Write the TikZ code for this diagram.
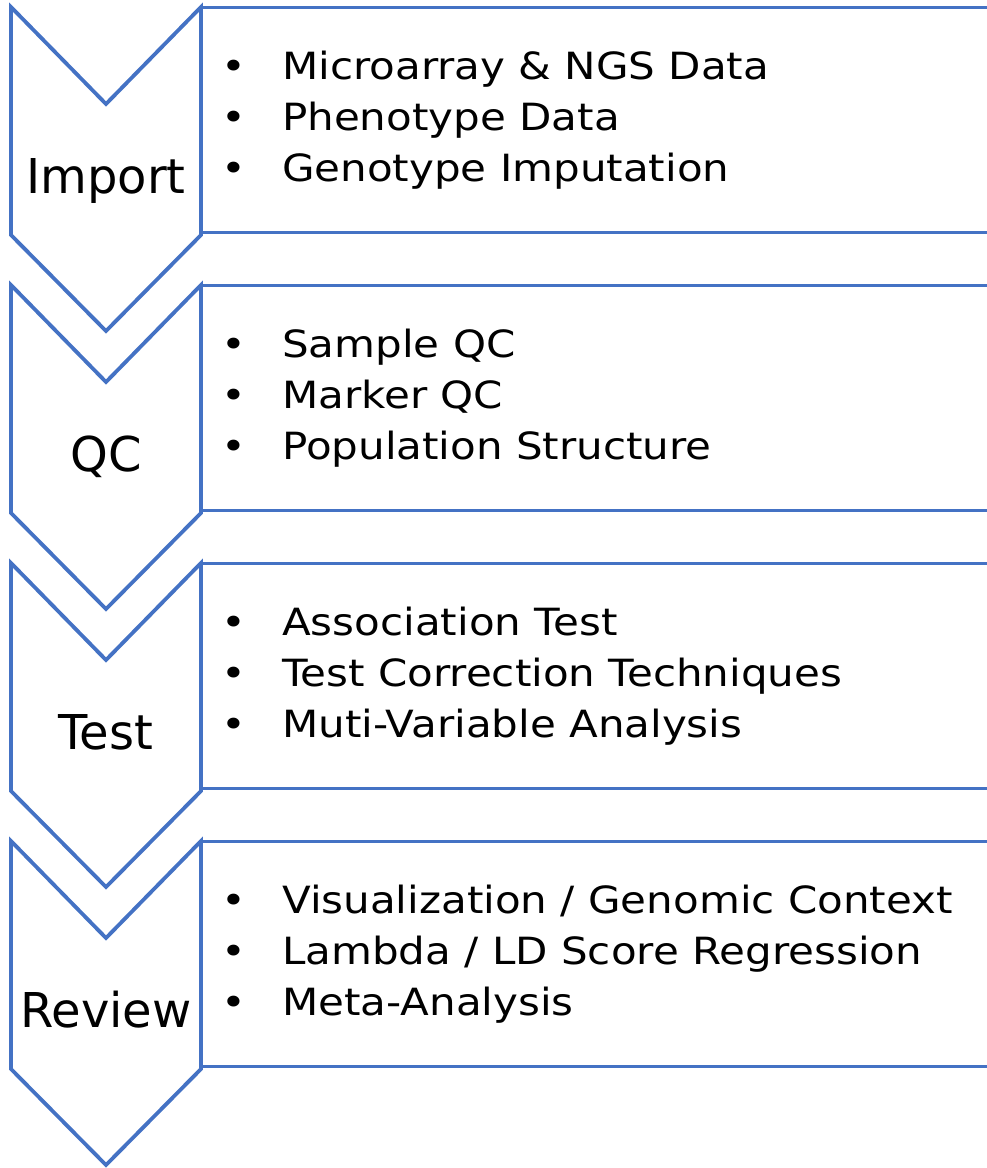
\documentclass[tikz,border=0pt]{standalone}
\usepackage{fontspec}
\setmainfont{DejaVu Sans}
\newfontfamily\listfont[FakeStretch=1.12]{DejaVu Sans}
\definecolor{obl}{HTML}{4472C4}
\tikzset{
  chev/.style={draw=obl, line width=3.8pt, line join=miter, fill=white},
  boxline/.style={draw=obl, line width=3pt},
  stage/.style={inner sep=0pt, anchor=base, font=\fontsize{48}{55}\selectfont},
  item/.style={inner sep=0pt, anchor=base west, font=\listfont\fontsize{37.5}{44}\selectfont},
}
\newcommand{\bul}{\makebox[61pt][l]{\textbullet}}
\begin{document}
\begin{tikzpicture}[x=1pt,y=-1pt]
\useasboundingbox (0,0) rectangle (987,1168);
\clip (0,0) rectangle (987,1168);
\foreach \t/\lab/\nm/\a/\b/\c in {
  7/Import/imp/{Microarray \& NGS Data}/{Phenotype Data}/{Genotype Imputation},
  285/QC/qc/{Sample QC}/{Marker QC}/{Population Structure},
  563/Test/tst/{Association Test}/{Test Correction Techniques}/{Muti-Variable Analysis},
  841/Review/rev/{Visualization / Genomic Context}/{Lambda / LD Score Regression}/{Meta-Analysis}}{
  \draw[boxline] (201,\t) -- (995,\t);
  \draw[boxline] (201,\t+225) -- (995,\t+225);
  \draw[chev] (11,\t) -- (106,\t+97) -- (201,\t) -- (201,\t+228) -- (106,\t+324) -- (11,\t+228) -- cycle;
  \node[stage] (\nm) at (106,\t+186) {\lab};
  \node[item] (\nm-1) at (221,\t+72) {\bul\a};
  \node[item] (\nm-2) at (221,\t+123) {\bul\b};
  \node[item] (\nm-3) at (221,\t+174) {\bul\c};
}
\end{tikzpicture}
\end{document}
